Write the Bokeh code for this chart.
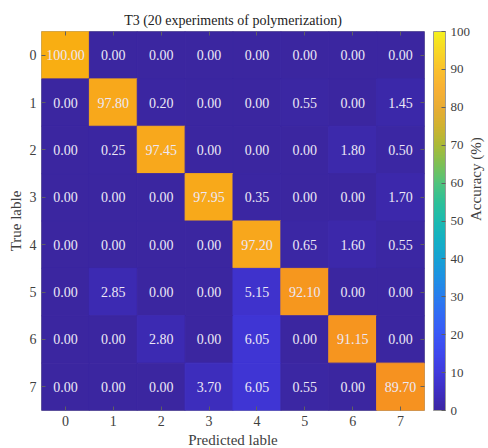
import numpy as np
from bokeh.plotting import figure
from bokeh.models import (ColumnDataSource, LinearColorMapper, ColorBar, FixedTicker,
                          LinearAxis, Range1d)
from bokeh.core.properties import value
from bokeh.embed import file_html
from bokeh.resources import INLINE

# ---- data ----
class_labels = ["0", "1", "2", "3", "4", "5", "6", "7"]
title_text = "T3 (20 experiments of polymerization)"
row0 = [100.00, 0.00, 0.00, 0.00, 0.00, 0.00, 0.00, 0.00]
row1 = [0.00, 97.80, 0.20, 0.00, 0.00, 0.55, 0.00, 1.45]
row2 = [0.00, 0.25, 97.45, 0.00, 0.00, 0.00, 1.80, 0.50]
row3 = [0.00, 0.00, 0.00, 97.95, 0.35, 0.00, 0.00, 1.70]
row4 = [0.00, 0.00, 0.00, 0.00, 97.20, 0.65, 1.60, 0.55]
row5 = [0.00, 2.85, 0.00, 0.00, 5.15, 92.10, 0.00, 0.00]
row6 = [0.00, 0.00, 2.80, 0.00, 6.05, 0.00, 91.15, 0.00]
row7 = [0.00, 0.00, 0.00, 3.70, 6.05, 0.55, 0.00, 89.70]
rows = [row0, row1, row2, row3, row4, row5, row6, row7]
cbar_ticks = [0, 10, 20, 30, 40, 50, 60, 70, 80, 90, 100]

FONT = "Liberation Serif"

def make_palette(anchors, n=256):
    pos = np.array([a[0] for a in anchors], float)
    cols = np.array([a[1] for a in anchors], float)
    t = np.linspace(pos[0], pos[-1], n)
    ch = [np.interp(t, pos, cols[:, k]) for k in range(3)]
    return ["#%02x%02x%02x" % (int(round(r)), int(round(g)), int(round(b)))
            for r, g, b in zip(*ch)]

cell_palette = make_palette([
    (0, (59, 38, 160)), (2.85, (60, 42, 178)), (5.15, (63, 50, 205)),
    (6.05, (63, 53, 212)), (20, (60, 95, 245)), (40, (25, 165, 210)),
    (60, (80, 195, 120)), (75, (200, 175, 45)), (89.7, (246, 146, 32)),
    (92.1, (246, 151, 30)), (97.2, (248, 167, 28)), (97.8, (248, 168, 27)),
    (100, (249, 174, 18))], n=1001)

cbar_palette = make_palette([
    (0, (60, 38, 162)), (5, (62, 46, 195)), (10, (64, 58, 220)), (15, (62, 72, 238)),
    (20, (58, 88, 246)), (25, (50, 105, 245)), (30, (40, 125, 238)), (35, (30, 145, 228)),
    (40, (22, 162, 212)), (45, (20, 176, 196)), (50, (28, 186, 176)), (55, (45, 192, 152)),
    (60, (80, 195, 125)), (65, (125, 192, 85)), (70, (170, 186, 55)), (75, (208, 178, 48)),
    (80, (232, 172, 52)), (85, (248, 176, 52)), (90, (250, 192, 45)), (95, (248, 215, 38)),
    (100, (245, 240, 30))])

xs, ys, vs, ts = [], [], [], []
for i, r in enumerate(rows):
    for j, v in enumerate(r):
        xs.append(j); ys.append(i); vs.append(v); ts.append(f"{v:.2f}")
src = ColumnDataSource(dict(x=xs, y=ys, v=vs, t=ts))

cell_mapper = LinearColorMapper(palette=cell_palette, low=0, high=100)
cbar_mapper = LinearColorMapper(palette=cbar_palette, low=0, high=100)

p = figure(frame_width=383, frame_height=379,
           x_range=Range1d(-0.5, 7.5), y_range=Range1d(7.5, -0.5),
           output_backend="svg", toolbar_location=None, title=title_text,
           min_border_left=41, min_border_top=31, min_border_bottom=28, min_border_right=0,
           outline_line_color="#9a9a9a", outline_line_width=1,
           background_fill_color="white", border_fill_color="white")

p.rect(x="x", y="y", width=1, height=1, source=src,
       fill_color={"field": "v", "transform": cell_mapper},
       line_color={"field": "v", "transform": cell_mapper}, line_width=1)
p.text(x="x", y="y", text="t", source=src, text_align="center", text_baseline="middle",
       text_color="#ece8f6", text_font=value(FONT), text_font_size="14px")

p.grid.visible = False
p.title.text_font = FONT
p.title.text_font_style = "normal"
p.title.text_font_size = "14px"
p.title.text_color = "#222222"
p.title.align = "center"
p.title.standoff = 7

ticker = FixedTicker(ticks=list(range(8)))
overrides = {i: lab for i, lab in enumerate(class_labels)}
for ax in (p.xaxis[0], p.yaxis[0]):
    ax.ticker = ticker
    ax.major_label_overrides = overrides
    ax.major_label_text_font = FONT
    ax.major_label_text_font_size = "14px"
    ax.major_label_text_color = "#404040"
    ax.axis_label_text_font = FONT
    ax.axis_label_text_font_size = "15px"
    ax.axis_label_text_font_style = "normal"
    ax.axis_label_text_color = "#404040"
    ax.axis_line_color = None
    ax.major_tick_in = 4
    ax.major_tick_out = 0
    ax.major_tick_line_color = "#606060"
    ax.minor_tick_line_color = None
    ax.major_label_standoff = 5
    ax.axis_label_standoff = 3
p.xaxis.axis_label = "Predicted lable"
p.yaxis.axis_label = "True lable"

def tick_only_axis():
    return LinearAxis(ticker=FixedTicker(ticks=list(range(8))),
                      major_label_overrides={i: "" for i in range(8)},
                      major_label_text_font_size="1px",
                      major_label_standoff=0, axis_line_color=None,
                      major_tick_in=4, major_tick_out=0,
                      major_tick_line_color="#606060", minor_tick_line_color=None)

p.add_layout(tick_only_axis(), "above")
right_ticks = tick_only_axis()
# a blank 1px label keeps a small gap between the matrix and the colour bar
right_ticks.axis_label = " "
right_ticks.axis_label_text_font_size = "1px"
right_ticks.axis_label_standoff = 5
p.add_layout(right_ticks, "right")

cbar = ColorBar(color_mapper=cbar_mapper, ticker=FixedTicker(ticks=cbar_ticks),
                width=12, height="auto", padding=0, margin=0,
                major_label_text_font=FONT, major_label_text_font_size="13px",
                major_label_text_color="#404040", label_standoff=5,
                major_tick_in=4, major_tick_out=0, major_tick_line_color="#606060",
                minor_tick_line_color=None, bar_line_color="#9a9a9a",
                background_fill_color=None, border_line_color=None)
p.add_layout(cbar, "right")

# "Accuracy (%)" as the label of a bare axis outside the colour bar
acc_ax = LinearAxis(ticker=FixedTicker(ticks=[]), axis_line_color=None,
                    major_tick_line_color=None, minor_tick_line_color=None,
                    axis_label="Accuracy (%)", axis_label_text_font=FONT,
                    axis_label_text_font_size="15px", axis_label_text_font_style="normal",
                    axis_label_text_color="#404040", axis_label_standoff=2,
                    major_label_standoff=0)
if "axis_label_orientation" in LinearAxis.properties():
    acc_ax.axis_label_orientation = np.pi / 2
p.add_layout(acc_ax, "right")

open("out.html", "w").write(file_html(p, INLINE))
